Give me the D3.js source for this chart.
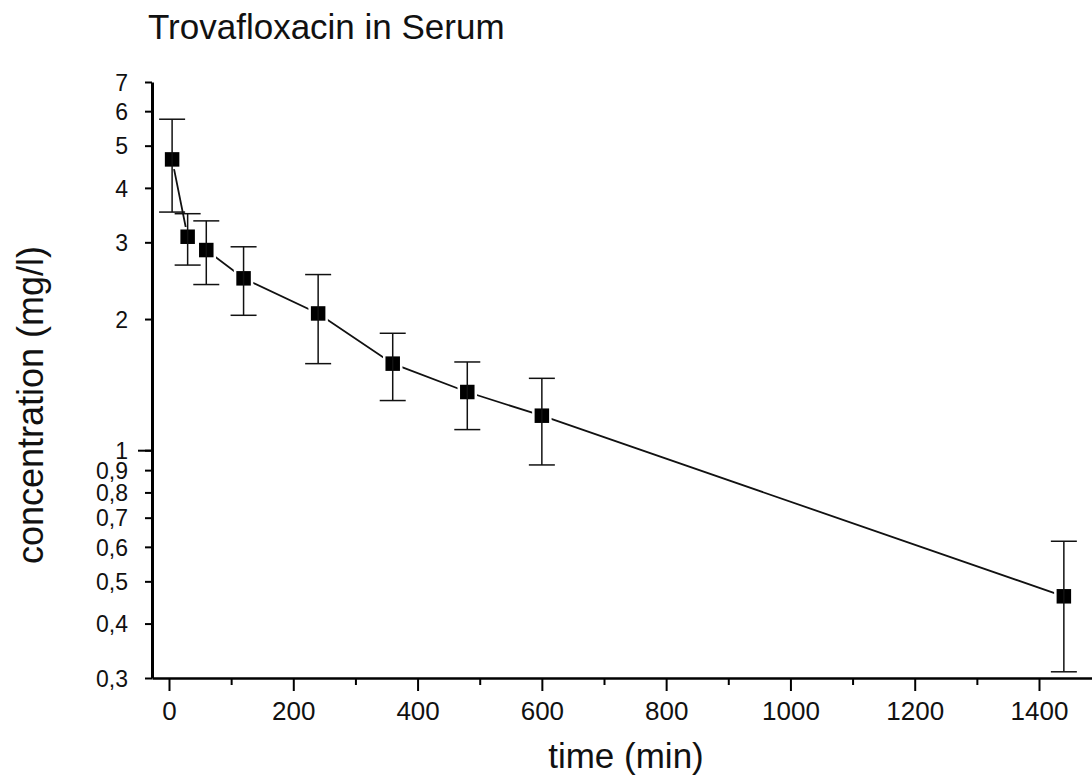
<!DOCTYPE html>
<html>
<head>
<meta charset="utf-8">
<script src="https://cdn.jsdelivr.net/npm/d3@7"></script>
<style>
  body { margin: 0; background: #fff; }
  text { font-family: "Liberation Sans", Arial, sans-serif; fill: #111; }
</style>
</head>
<body>
<svg id="chart" width="1092" height="780"></svg>
<script>
// data
const times = [5, 30, 60, 120, 240, 360, 480, 600, 1440];
const means = [4.65, 3.09, 2.88, 2.48, 2.06, 1.58, 1.36, 1.20, 0.462];
const upper = [5.75, 3.49, 3.36, 2.93, 2.53, 1.855, 1.594, 1.462, 0.618];
const lower = [3.52, 2.66, 2.40, 2.04, 1.58, 1.30, 1.115, 0.925, 0.31];

const yTicks = [0.3, 0.4, 0.5, 0.6, 0.7, 0.8, 0.9, 1, 2, 3, 4, 5, 6, 7];
const xMajor = [0, 200, 400, 600, 800, 1000, 1200, 1400];
const xMinor = [100, 300, 500, 700, 900, 1100, 1300];

const svg = d3.select("svg#chart");

// Scales

const x = d3.scaleLinear()
    .domain([0, 1400])
    .range([169, 1039]);

// axis spans from the y axis to the right edge
const xAxisScale = x.copy()
    .domain([x.invert(152), x.invert(1092)])
    .range([152, 1092]);

const y = d3.scaleLog()
    .domain([0.3, 7])
    .range([678, 82]);

// Axes

const fmt = d => String(d).replace(".", ",");

const yAxis = svg.append("g")
    .attr("transform", "translate(152,0)")
    .call(d3.axisLeft(y)
        .tickValues(yTicks)
        .tickFormat(fmt)
        .tickSizeInner(7)
        .tickSizeOuter(0)
        .tickPadding(17));

yAxis.select(".domain").attr("stroke-width", 3);
yAxis.selectAll(".tick line").attr("stroke-width", 2);
yAxis.selectAll(".tick text")
    .style("font-size", "23px")
    .attr("dy", "0.36em")
    .attr("fill", "#111");

// longer tick at 1
svg.append("g")
    .attr("transform", "translate(152,0)")
    .call(d3.axisLeft(y).tickValues([1]).tickFormat("").tickSizeInner(14).tickSizeOuter(0))
    .call(g => g.select(".domain").remove())
    .selectAll(".tick line").attr("stroke-width", 2);

const xAxis = svg.append("g")
    .attr("transform", "translate(0,678)")
    .call(d3.axisBottom(xAxisScale)
        .tickValues(xMajor)
        .tickFormat(d3.format("d"))
        .tickSizeInner(13)
        .tickSizeOuter(0)
        .tickPadding(11));

xAxis.select(".domain").attr("stroke-width", 2.5);
xAxis.selectAll(".tick line").attr("stroke-width", 2);
xAxis.selectAll(".tick text")
    .style("font-size", "26px")
    .attr("fill", "#111");

svg.append("g")
    .attr("transform", "translate(0,678)")
    .call(d3.axisBottom(xAxisScale).tickValues(xMinor).tickFormat("").tickSizeInner(7).tickSizeOuter(0))
    .call(g => g.select(".domain").remove())
    .selectAll(".tick line").attr("stroke-width", 2);

// Titles

svg.append("text")
    .attr("x", 148)
    .attr("y", 39)
    .style("font-size", "35px")
    .text("Trovafloxacin in Serum");

svg.append("text")
    .attr("x", 626)
    .attr("y", 768)
    .attr("text-anchor", "middle")
    .style("font-size", "35px")
    .text("time (min)");

svg.append("text")
    .attr("transform", "translate(43,405) rotate(-90)")
    .attr("text-anchor", "middle")
    .style("font-size", "36px")
    .text("concentration (mg/l)");

// Line

const line = d3.line()
    .x((d, i) => x(times[i]))
    .y(d => y(d));

svg.append("path")
    .datum(means)
    .attr("fill", "none")
    .attr("stroke", "#111")
    .attr("stroke-width", 1.8)
    .attr("d", line);

// Markers

const sq = 17;

svg.selectAll(".marker")
    .data(means)
    .enter()
    .append("rect")
    .attr("class", "marker")
    .attr("x", (d, i) => x(times[i]) - sq / 2)
    .attr("y", d => y(d) - sq / 2)
    .attr("width", sq)
    .attr("height", sq)
    .attr("fill", "#000")
    .attr("stroke", "#fff")
    .attr("stroke-width", 2.5);

// Error bars

const cap = 13;

times.forEach((t, i) => {
    const g = svg.append("g")
        .attr("stroke", "#111")
        .attr("stroke-width", 1.5);

    g.append("line")
        .attr("x1", x(t)).attr("x2", x(t))
        .attr("y1", y(upper[i])).attr("y2", y(lower[i]));

    g.append("line")
        .attr("x1", x(t) - cap).attr("x2", x(t) + cap)
        .attr("y1", y(upper[i])).attr("y2", y(upper[i]));

    g.append("line")
        .attr("x1", x(t) - cap).attr("x2", x(t) + cap)
        .attr("y1", y(lower[i])).attr("y2", y(lower[i]));
});
</script>
</body>
</html>
